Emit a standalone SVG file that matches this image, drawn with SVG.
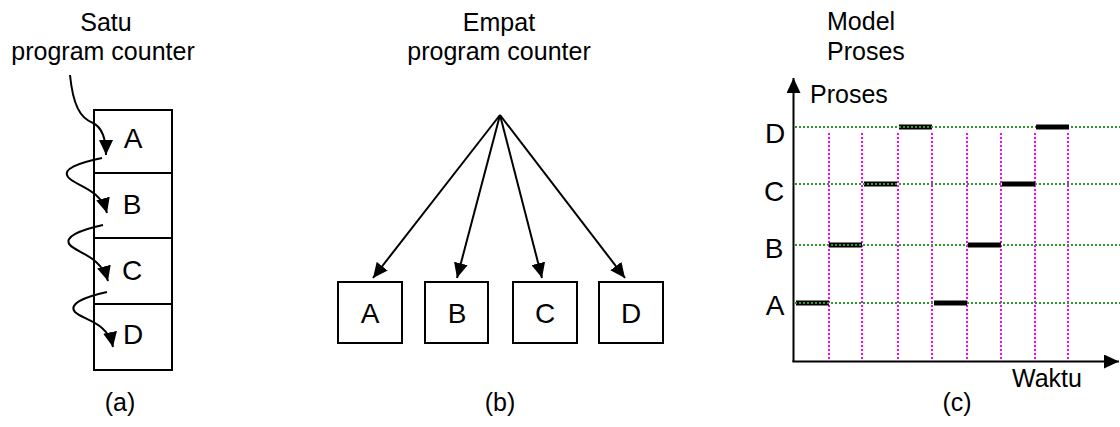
<svg xmlns="http://www.w3.org/2000/svg" width="1120" height="427" viewBox="0 0 1120 427">
<style>
text{font-family:"Liberation Sans",Arial,sans-serif;fill:#000}
.w{font-size:25px}
.l{font-size:28px}
.box{fill:#fff;stroke:#000;stroke-width:2}
.con{fill:none;stroke:#000;stroke-width:2}
.g{stroke:#2e9a2e;stroke-width:2;stroke-dasharray:2 2;fill:none}
.m{stroke:#ff00ff;stroke-width:2;stroke-dasharray:2 2;fill:none}
.bar{stroke:#000;stroke-width:5}
</style>
<defs>
<marker id="ah" markerUnits="userSpaceOnUse" markerWidth="16" markerHeight="14" refX="15" refY="7" orient="auto" viewBox="0 0 16 14">
<path d="M0,0 L15,7 L0,14 z" fill="#000"/>
</marker>
</defs>

<!-- Panel (a) -->
<g id="a-title">
<text class="w" x="106" y="31" text-anchor="middle">Satu</text>
<text class="w" x="103" y="60" text-anchor="middle">program counter</text>
</g>
<g id="a-A"><rect class="box" x="94" y="110" width="78" height="63"/><text class="l" x="133" y="148" text-anchor="middle">A</text></g>
<g id="a-B"><rect class="box" x="94" y="173" width="78" height="65"/><text class="l" x="132" y="214" text-anchor="middle">B</text></g>
<g id="a-C"><rect class="box" x="94" y="238" width="78" height="66"/><text class="l" x="132" y="280" text-anchor="middle">C</text></g>
<g id="a-D"><rect class="box" x="94" y="304" width="78" height="66"/><text class="l" x="133" y="344" text-anchor="middle">D</text></g>
<g id="a-label"><text class="w" x="120" y="411" text-anchor="middle">(a)</text></g>

<!-- Panel (b) -->
<g id="b-title">
<text class="w" x="499" y="31" text-anchor="middle">Empat</text>
<text class="w" x="499" y="60" text-anchor="middle">program counter</text>
</g>
<g id="b-A"><rect class="box" x="338" y="282" width="64" height="61"/><text class="l" x="370" y="323" text-anchor="middle">A</text></g>
<g id="b-B"><rect class="box" x="425" y="282" width="63" height="61"/><text class="l" x="457" y="323" text-anchor="middle">B</text></g>
<g id="b-C"><rect class="box" x="513" y="282" width="64" height="61"/><text class="l" x="545" y="323" text-anchor="middle">C</text></g>
<g id="b-D"><rect class="box" x="599" y="282" width="64" height="61"/><text class="l" x="631" y="323" text-anchor="middle">D</text></g>
<g id="b-label"><text class="w" x="500" y="411" text-anchor="middle">(b)</text></g>

<!-- Connectors -->
<g id="connectors">
<path class="con" marker-end="url(#ah)" d="M70,75 C73,105 80,118 93,123 C101,127 106,137 106,155"/>
<path class="con" marker-end="url(#ah)" d="M102,158 C78,163 62,169 68,177 C75,186 100,188 107,213"/>
<path class="con" marker-end="url(#ah)" d="M103,225 C80,230 63,237 70,245 C77,253 101,256 108,281"/>
<path class="con" marker-end="url(#ah)" d="M107,292 C84,297 68,304 75,312 C83,320 108,322 113,347"/>
<line class="con" marker-end="url(#ah)" x1="500" y1="115" x2="373" y2="278"/>
<line class="con" marker-end="url(#ah)" x1="500" y1="115" x2="457" y2="278"/>
<line class="con" marker-end="url(#ah)" x1="500" y1="115" x2="542" y2="278"/>
<line class="con" marker-end="url(#ah)" x1="500" y1="115" x2="625" y2="278"/>
</g>

<!-- Panel (c) -->
<g id="c-title">
<text class="w" x="827" y="30">Model</text>
<text class="w" x="827" y="60">Proses</text>
</g>
<g id="c-chart">
<line class="m" x1="829" y1="133" x2="829" y2="361"/>
<line class="m" x1="862" y1="133" x2="862" y2="361"/>
<line class="m" x1="898" y1="133" x2="898" y2="361"/>
<line class="m" x1="932" y1="133" x2="932" y2="361"/>
<line class="m" x1="967" y1="133" x2="967" y2="361"/>
<line class="m" x1="1001" y1="133" x2="1001" y2="361"/>
<line class="m" x1="1035" y1="133" x2="1035" y2="361"/>
<line class="m" x1="1068" y1="133" x2="1068" y2="361"/>
<line class="bar" x1="796" y1="303" x2="829" y2="303"/>
<line class="bar" x1="829" y1="245" x2="862" y2="245"/>
<line class="bar" x1="864" y1="184" x2="897" y2="184"/>
<line class="bar" x1="899" y1="127" x2="932" y2="127"/>
<line class="g" x1="795" y1="127" x2="1120" y2="127"/>
<line class="g" x1="795" y1="184" x2="1120" y2="184"/>
<line class="g" x1="795" y1="245" x2="1120" y2="245"/>
<line class="g" x1="795" y1="303" x2="1120" y2="303"/>
<line class="bar" x1="934" y1="303" x2="967" y2="303"/>
<line class="bar" x1="968" y1="245" x2="1001" y2="245"/>
<line class="bar" x1="1002" y1="184" x2="1035" y2="184"/>
<line class="bar" x1="1036" y1="127" x2="1069" y2="127"/>
<line class="con" marker-end="url(#ah)" x1="793.5" y1="362" x2="793.5" y2="78"/>
<line class="con" marker-end="url(#ah)" x1="792.5" y1="361.5" x2="1119" y2="361.5"/>
<text class="w" x="810" y="103">Proses</text>
<text class="w" x="1012" y="387">Waktu</text>
<text class="l" x="775" y="143" text-anchor="middle">D</text>
<text class="l" x="774" y="201" text-anchor="middle">C</text>
<text class="l" x="774" y="258" text-anchor="middle">B</text>
<text class="l" x="775" y="315" text-anchor="middle">A</text>
</g>
<g id="c-label"><text class="w" x="957" y="411" text-anchor="middle">(c)</text></g>
</svg>
